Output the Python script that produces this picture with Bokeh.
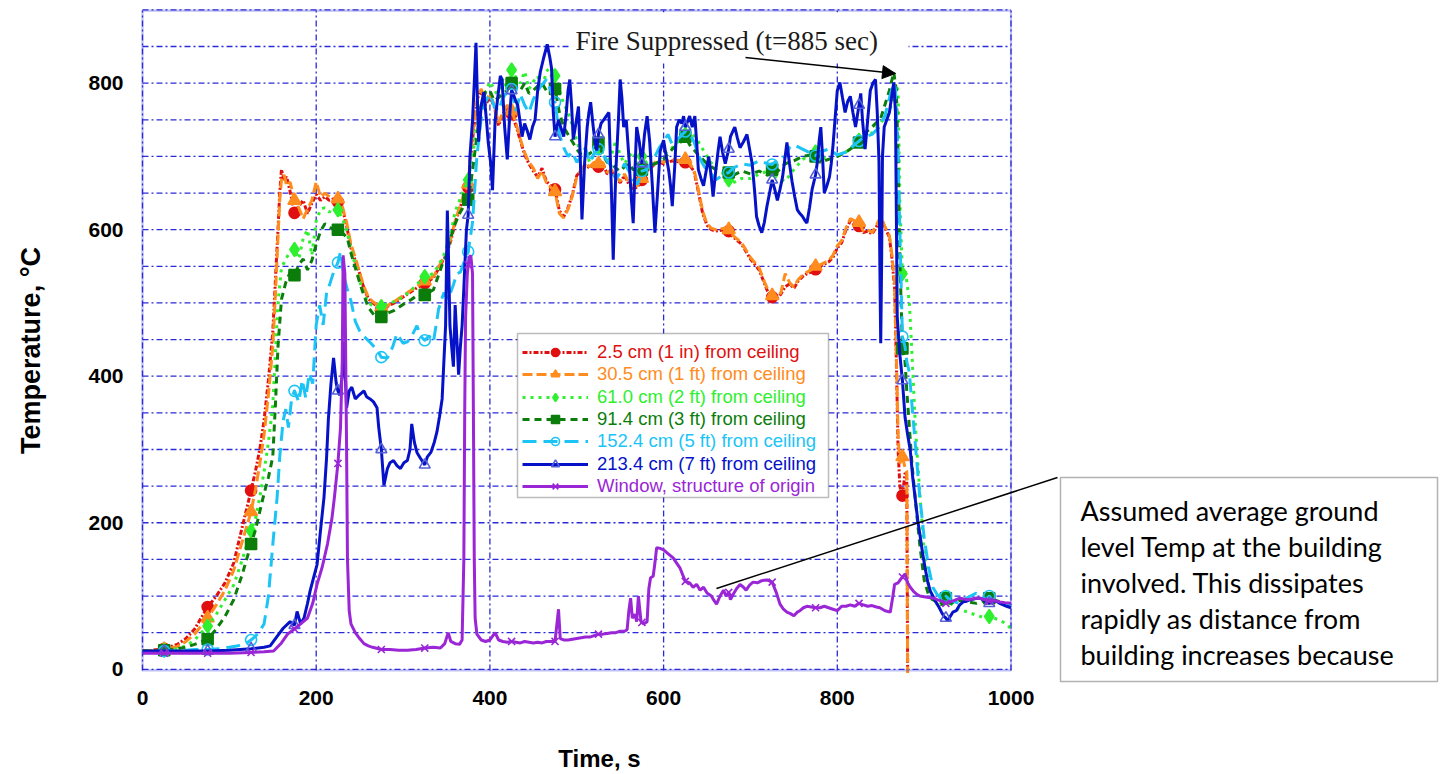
import numpy as np
from bokeh.plotting import figure
from bokeh.models import (Range1d, FixedTicker, Legend, LegendItem, Label, Arrow,
                          NormalHead, BoxAnnotation)
from bokeh.embed import file_html
from bokeh.resources import INLINE

# ---------------- data ----------------
series_names = [
    "2.5 cm (1 in) from ceiling",
    "30.5 cm (1 ft) from ceiling",
    "61.0 cm (2 ft) from ceiling",
    "91.4 cm (3 ft) from ceiling",
    "152.4 cm (5 ft) from ceiling",
    "213.4 cm (7 ft) from ceiling",
    "Window, structure of origin",
]

# time base shared by the 2.5 cm and 30.5 cm thermocouples (s)
t_top = [0, 10, 25, 40, 50, 60, 75, 85, 95, 105,
         115, 125, 130, 135, 140, 145, 150, 153, 156, 158,
         160, 163, 166, 170, 175, 180, 185, 190, 195, 200,
         205, 210, 215, 220, 225, 230, 235, 240, 245, 250,
         255, 260, 265, 270, 275, 280, 290, 300, 310, 318,
         325, 335, 345, 350, 355, 360, 365, 370, 375, 378,
         382, 386, 390, 395, 400, 405, 410, 415, 420, 425,
         430, 435, 440, 445, 450, 455, 460, 465, 470, 475,
         480, 485, 490, 495, 500, 505, 510, 515, 520, 525,
         530, 535, 540, 545, 550, 555, 560, 565, 570, 575,
         580, 585, 590, 595, 600, 610, 620, 625, 630, 635,
         640, 645, 650, 655, 660, 670, 675, 680, 690, 700,
         710, 715, 720, 725, 730, 735, 740, 745, 750, 755,
         760, 765, 770, 775, 780, 790, 795, 800, 805, 810,
         815, 820, 825, 830, 835, 840, 845, 850, 855, 860,
         863, 866, 868, 870, 872, 875, 878, 880, 881]

v_2_5 = [25, 26, 28, 34, 42, 55, 85, 100, 118, 145,
         195, 244, 270, 300, 340, 395, 460, 530, 600, 650,
         682, 668, 672, 652, 623, 632, 640, 622, 636, 648,
         640, 645, 640, 642, 638, 630, 605, 575, 558, 540,
         520, 506, 500, 496, 492, 494, 500, 508, 516, 522,
         527, 534, 556, 566, 585, 610, 628, 645, 658, 700,
         745, 780, 790, 770, 782, 768, 742, 758, 768, 758,
         742, 722, 702, 690, 680, 672, 684, 666, 660, 655,
         626, 618, 630, 648, 674, 680, 688, 684, 690, 686,
         690, 676, 680, 670, 664, 674, 662, 656, 658, 668,
         680, 684, 690, 692, 690, 694, 692, 692, 688, 680,
         652, 622, 606, 600, 598, 600, 598, 590, 580, 560,
         545, 530, 515, 508, 505, 512, 522, 526, 520, 530,
         536, 540, 542, 546, 550, 556, 562, 575, 582, 600,
         612, 606, 605, 596, 598, 594, 604, 616, 602, 590,
         560, 520, 420, 300, 250, 237, 268, 265, 0]

v_30_5 = [25, 25, 27, 31, 38, 48, 70, 88, 108, 135,
          175, 215, 245, 280, 320, 375, 440, 510, 590, 640,
          668, 675, 660, 665, 640, 630, 615, 628, 640, 665,
          645, 650, 645, 640, 642, 632, 610, 580, 562, 542,
          522, 508, 502, 498, 494, 495, 502, 510, 518, 524,
          530, 536, 558, 568, 588, 612, 630, 648, 662, 705,
          748, 782, 792, 775, 786, 770, 746, 760, 770, 762,
          746, 724, 705, 692, 684, 670, 680, 664, 658, 652,
          622, 616, 628, 646, 672, 682, 690, 686, 692, 690,
          692, 678, 682, 672, 666, 676, 664, 660, 660, 670,
          682, 686, 692, 694, 692, 696, 694, 696, 690, 682,
          655, 625, 608, 602, 600, 602, 600, 592, 582, 562,
          548, 532, 518, 510, 507, 514, 540, 528, 522, 532,
          538, 542, 545, 550, 552, 558, 565, 578, 585, 602,
          615, 612, 610, 598, 600, 596, 606, 618, 604, 592,
          565, 527, 430, 320, 281, 290, 275, 270, -5]

# time base shared by the 61.0 cm and 91.4 cm thermocouples (s)
t_mid = [0, 10, 25, 40, 50, 60, 75, 85, 95, 105,
         115, 125, 130, 135, 140, 145, 150, 153, 156, 160,
         165, 170, 175, 180, 185, 190, 195, 200, 205, 210,
         215, 220, 225, 230, 236, 240, 245, 250, 255, 260,
         265, 270, 275, 280, 290, 300, 310, 318, 325, 335,
         345, 350, 355, 360, 365, 370, 375, 380, 385, 390,
         395, 400, 405, 410, 415, 420, 425, 430, 435, 440,
         445, 450, 455, 460, 465, 470, 475, 480, 485, 490,
         495, 500, 505, 510, 515, 520, 525, 530, 535, 540,
         545, 550, 555, 560, 565, 570, 575, 580, 585, 590,
         600, 610, 620, 625, 630, 640, 650, 660, 670, 675,
         680, 690, 700, 710, 720, 725, 730, 740, 750, 760,
         770, 775, 780, 790, 800, 810, 820, 825, 830, 840,
         850, 860, 865, 868, 870, 872, 875, 878, 880, 883,
         886, 890, 895, 900, 905, 910, 920, 925, 930, 940,
         950, 960, 970, 975, 985, 995, 1000]

v_61_0 = [25, 25, 26, 28, 32, 40, 59, 75, 95, 115,
          150, 189, 205, 235, 270, 310, 360, 430, 500, 548,
          560, 570, 573, 560, 588, 600, 565, 612, 628, 630,
          624, 630, 627, 616, 596, 572, 552, 530, 512, 500,
          496, 494, 495, 498, 502, 508, 518, 528, 536, 540,
          560, 575, 595, 625, 640, 655, 668, 700, 742, 772,
          788, 802, 792, 780, 806, 792, 818, 808, 800, 816,
          792, 802, 810, 792, 816, 822, 810, 790, 772, 760,
          742, 722, 702, 706, 692, 702, 712, 706, 692, 702,
          722, 702, 690, 700, 706, 690, 700, 692, 682, 690,
          702, 712, 724, 730, 736, 720, 700, 682, 676, 668,
          664, 670, 670, 676, 680, 682, 672, 666, 682, 696,
          702, 706, 700, 696, 700, 706, 716, 722, 726, 732,
          746, 762, 780, 795, 790, 640, 540, 545, 530, 500,
          430, 330, 240, 160, 115, 92, 85, 98, 90, 82,
          78, 74, 70, 72, 68, 62, 55]

v_91_4 = [25, 25, 26, 28, 30, 34, 41, 55, 72, 95,
          130, 171, 190, 215, 240, 262, 290, 360, 440, 505,
          528, 542, 538, 552, 560, 545, 558, 580, 598, 608,
          604, 600, 600, 596, 588, 568, 548, 528, 510, 494,
          486, 480, 481, 485, 490, 498, 505, 512, 511, 518,
          552, 565, 590, 608, 622, 632, 641, 680, 728, 768,
          788, 790, 776, 780, 786, 790, 800, 795, 790, 800,
          786, 790, 796, 800, 790, 786, 792, 760, 740, 730,
          720, 710, 702, 700, 704, 708, 719, 702, 692, 690,
          684, 680, 686, 690, 682, 680, 682, 686, 688, 690,
          696, 710, 720, 727, 716, 702, 690, 682, 680, 678,
          674, 680, 676, 680, 674, 682, 678, 690, 694, 700,
          702, 700, 692, 696, 700, 706, 714, 719, 730, 740,
          752, 790, 815, 790, 700, 560, 438, 420, 380, 330,
          280, 230, 170, 122, 102, 95, 88, 97, 90, 94,
          92, 90, 94, 97, 93, 88, 85]

# 152.4 cm thermocouple
t_152 = [0, 10, 25, 40, 50, 60, 75, 90, 100, 110,
         120, 125, 130, 135, 140, 145, 150, 155, 158, 162,
         165, 168, 172, 175, 180, 184, 188, 192, 196, 200,
         204, 208, 212, 216, 220, 225, 228, 232, 236, 240,
         245, 250, 257, 263, 270, 275, 282, 288, 293, 300,
         305, 310, 316, 320, 325, 330, 335, 341, 347, 352,
         358, 362, 366, 370, 375, 380, 385, 390, 395, 400,
         405, 410, 415, 420, 425, 430, 435, 440, 445, 450,
         455, 460, 465, 470, 475, 480, 485, 490, 495, 500,
         505, 510, 515, 520, 525, 530, 535, 540, 545, 550,
         555, 560, 565, 570, 575, 580, 585, 590, 595, 600,
         605, 610, 615, 620, 625, 630, 635, 640, 645, 650,
         655, 660, 665, 670, 675, 680, 690, 700, 710, 720,
         725, 730, 740, 745, 750, 760, 770, 775, 780, 790,
         800, 810, 820, 825, 830, 840, 850, 855, 860, 865,
         867, 870, 872, 875, 878, 880, 883, 886, 890, 895,
         900, 905, 910, 915, 920, 925, 930, 940, 950, 960,
         970, 975, 980, 990, 1000]

v_152 = [24, 24, 25, 25, 26, 27, 27, 28, 30, 32,
         36, 40, 45, 52, 62, 100, 170, 235, 290, 340,
         355, 330, 372, 380, 365, 395, 370, 404, 390, 470,
         497, 470, 514, 527, 542, 555, 570, 536, 518, 503,
         475, 462, 452, 445, 436, 426, 425, 440, 458, 445,
         447, 455, 469, 455, 449, 455, 447, 492, 514, 505,
         525, 540, 542, 555, 570, 610, 700, 752, 775, 785,
         768, 762, 780, 788, 792, 762, 785, 770, 760, 778,
         790, 798, 805, 790, 774, 730, 712, 700, 706, 692,
         700, 712, 692, 704, 710, 702, 694, 686, 668, 678,
         690, 680, 668, 662, 680, 682, 690, 700, 712, 720,
         730, 716, 722, 728, 734, 730, 720, 702, 690, 680,
         676, 668, 672, 676, 678, 684, 690, 688, 694, 690,
         689, 694, 700, 712, 716, 710, 704, 701, 706, 710,
         702, 706, 716, 721, 726, 730, 742, 756, 780, 800,
         792, 700, 600, 454, 440, 420, 405, 360, 305, 235,
         180, 140, 112, 102, 96, 100, 94, 90, 98, 104,
         95, 100, 92, 90, 88]

# 213.4 cm thermocouple
t_213 = [0, 25, 50, 75, 100, 125, 140, 147, 155, 162,
         170, 175, 178, 182, 186, 190, 193, 197, 201, 205,
         209, 212, 214, 217, 220, 223, 225, 227, 230, 232,
         235, 238, 241, 245, 250, 255, 258, 262, 266, 270,
         272, 275, 278, 282, 285, 289, 293, 297, 301, 305,
         308, 310, 313, 316, 320, 325, 328, 332, 336, 339,
         342, 345, 347, 349, 351, 352, 354, 356, 358, 360,
         362, 364, 366, 368, 370, 371, 373, 375, 377, 380,
         382, 384, 386, 387, 390, 393, 396, 398, 401, 403,
         406, 409, 412, 414, 417, 420, 423, 425, 427, 430,
         432, 435, 437, 440, 443, 446, 449, 452, 455, 458,
         462, 466, 469, 471, 473, 475, 477, 479, 482, 485,
         488, 490, 492, 494, 496, 499, 502, 504, 506, 509,
         512, 514, 516, 519, 521, 523, 525, 528, 531, 534,
         537, 540, 542, 545, 548, 550, 552, 554, 557, 560,
         563, 565, 567, 569, 572, 575, 578, 581, 584, 587,
         590, 593, 596, 600, 603, 606, 608, 610, 613, 615,
         618, 621, 623, 625, 630, 633, 636, 638, 640, 643,
         646, 649, 652, 655, 657, 660, 663, 665, 668, 671,
         675, 677, 680, 682, 685, 688, 692, 696, 699, 702,
         705, 707, 710, 713, 716, 719, 722, 725, 728, 731,
         734, 737, 740, 742, 745, 748, 751, 754, 757, 760,
         763, 765, 768, 771, 775, 777, 779, 781, 783, 785,
         788, 791, 793, 795, 798, 800, 803, 806, 809, 812,
         815, 818, 821, 825, 827, 829, 832, 835, 838, 841,
         844, 846, 848, 849, 850, 851, 852, 854, 857, 860,
         863, 865, 867, 869, 872, 875, 878, 881, 884, 887,
         890, 893, 895, 898, 901, 904, 907, 910, 913, 917,
         920, 923, 925, 927, 930, 933, 937, 941, 945, 949,
         953, 957, 960, 964, 968, 971, 975, 979, 983, 987,
         991, 995, 1000]

v_213 = [25, 25, 25, 25, 26, 28, 30, 32, 45, 56,
         65, 60, 79, 62, 70, 90, 107, 125, 143, 190,
         235, 290, 341, 390, 425, 391, 380, 374, 400, 447,
         357, 380, 385, 369, 375, 380, 372, 369, 365, 357,
         330, 300, 251, 274, 282, 285, 278, 274, 282, 285,
         300, 335, 310, 296, 288, 279, 290, 296, 310, 324,
         345, 369, 420, 469, 626, 580, 469, 440, 413, 497,
         450, 402, 440, 469, 520, 547, 600, 620, 700, 749,
         800, 855, 760, 720, 770, 788, 750, 720, 690, 654,
         749, 780, 810, 805, 740, 696, 760, 790, 785, 775,
         770, 745, 727, 745, 735, 723, 740, 750, 790, 815,
         835, 853, 835, 820, 760, 727, 740, 750, 738, 727,
         760, 790, 805, 770, 723, 745, 768, 700, 614, 690,
         740, 760, 774, 740, 720, 708, 730, 745, 750, 755,
         760, 650, 559, 680, 750, 805, 780, 740, 750, 700,
         640, 609, 680, 740, 720, 690, 730, 755, 720, 661,
         596, 650, 707, 722, 700, 680, 660, 632, 690, 740,
         750, 745, 755, 740, 755, 740, 755, 720, 682, 670,
         660, 680, 700, 670, 645, 680, 710, 727, 705, 690,
         710, 727, 735, 740, 725, 712, 720, 730, 710, 690,
         650, 618, 605, 596, 610, 632, 650, 668, 655, 640,
         655, 672, 700, 719, 690, 665, 645, 627, 622, 618,
         612, 609, 630, 655, 675, 692, 720, 740, 700, 650,
         660, 672, 690, 714, 760, 790, 801, 780, 760, 775,
         782, 760, 740, 770, 786, 750, 710, 750, 790, 800,
         805, 760, 692, 550, 445, 550, 700, 740, 750, 760,
         785, 801, 760, 481, 430, 394, 344, 320, 299, 260,
         230, 200, 185, 160, 139, 120, 107, 100, 93, 85,
         78, 72, 70, 66, 72, 78, 80, 88, 92, 93,
         95, 96, 97, 97, 95, 92, 90, 93, 93, 90,
         88, 86, 84]

# window of the structure of origin
t_win = [0, 25, 50, 75, 100, 125, 140, 151, 160, 167,
         175, 180, 190, 196, 201, 207, 213, 218, 221, 225,
         228, 230, 231, 233, 235, 236, 238, 240, 245, 250,
         255, 260, 265, 275, 285, 295, 305, 315, 325, 335,
         343, 348, 352, 355, 360, 365, 368, 370, 371, 372,
         374, 375, 376, 378, 380, 381, 382, 383, 385, 390,
         395, 400, 406, 410, 415, 420, 425, 430, 435, 440,
         445, 450, 455, 460, 465, 470, 475, 477, 479, 481,
         485, 490, 495, 500, 505, 510, 515, 520, 525, 530,
         535, 540, 545, 550, 555, 558, 560, 562, 564, 567,
         569, 571, 574, 575, 577, 581, 583, 585, 588, 590,
         592, 596, 600, 605, 611, 615, 619, 625, 630, 634,
         638, 642, 646, 650, 655, 658, 661, 665, 669, 672,
         675, 677, 680, 684, 688, 692, 695, 699, 703, 708,
         713, 719, 725, 730, 734, 738, 742, 746, 750, 754,
         757, 761, 765, 770, 775, 780, 785, 790, 795, 800,
         805, 810, 815, 820, 825, 830, 835, 840, 845, 849,
         855, 861, 864, 866, 870, 875, 878, 881, 884, 888,
         892, 895, 900, 905, 911, 915, 920, 925, 930, 935,
         941, 946, 950, 955, 960, 964, 970, 975, 980, 987,
         993, 1000]

v_win = [22, 22, 22, 22, 22, 23, 24, 25, 36, 48,
         55, 60, 70, 90, 116, 140, 171, 205, 235, 281,
         330, 420, 565, 540, 300, 150, 80, 62, 50, 42,
         35, 32, 30, 27, 27, 26, 26, 27, 29, 30,
         29, 35, 50, 38, 35, 34, 40, 150, 350, 480,
         540, 552, 562, 565, 540, 350, 150, 70, 48, 40,
         38, 40, 50, 40, 38, 37, 38, 37, 36, 38,
         37, 36, 37, 36, 38, 38, 38, 60, 82, 42,
         40, 40, 41, 42, 43, 44, 44, 46, 48, 48,
         49, 50, 50, 52, 52, 54, 80, 97, 70, 75,
         65, 100, 65, 64, 62, 65, 110, 125, 127, 145,
         166, 165, 163, 158, 152, 145, 138, 120, 118, 112,
         116, 108, 112, 104, 100, 94, 89, 100, 108, 100,
         105, 95, 102, 110, 116, 112, 108, 115, 119, 118,
         121, 122, 119, 104, 89, 82, 78, 76, 73, 78,
         80, 84, 86, 85, 84, 84, 86, 84, 82, 80,
         86, 86, 88, 86, 90, 88, 86, 87, 85, 84,
         80, 78, 100, 116, 118, 126, 130, 118, 112, 106,
         102, 100, 99, 98, 97, 95, 93, 90, 92, 94,
         97, 96, 95, 96, 97, 97, 95, 93, 94, 92,
         91, 90]

marker_times = list(range(25, 1000, 50))   # a symbol is drawn every 50 s

x_ticks = [0, 200, 400, 600, 800, 1000]
y_ticks = [0, 200, 400, 600, 800]
y_grid_steps = list(range(0, 901, 50))

x_title = "Time, s"
y_title = "Temperature, °C"
fire_note = "Fire Suppressed (t=885 sec)"
note_lines = ["Assumed average ground",
              "level Temp at the building",
              "involved. This dissipates",
              "rapidly as distance from",
              "building increases because"]

# ---------------- geometry ----------------
W, H = 1445, 772
PX0, SX = 142.0, 0.8685     # pixel of t = 0 and pixels per second
PY0, SY = 668.8, 0.7327     # pixel of T = 0 and pixels per degree
X0, X1 = 0, 1000            # plotting box (s)
Y0, Y1 = -1.5, 899          # plotting box (deg C)

def sx(px):
    return (px - PX0) / SX

def sy(py):
    return (PY0 - py) / SY

GRID_BLUE = "#2a2ad8"
series = [
    dict(t=t_top, v=v_2_5, color="#e01010", dash="5 2 2 2", marker="circle", size=11, fill=True),
    dict(t=t_top, v=v_30_5, color="#ff8c1e", dash="10 4", marker="triangle", size=13, fill=True),
    dict(t=t_mid, v=v_61_0, color="#2ef02e", dash="3 5", marker="diamond", size=14, fill=True),
    dict(t=t_mid, v=v_91_4, color="#0b7d0b", dash="7 5", marker="square", size=11, fill=True),
    dict(t=t_152, v=v_152, color="#1cc4f6", dash="14 7", marker="circle_dot", size=11, fill=False),
    dict(t=t_213, v=v_213, color="#0612c8", dash="solid", marker="triangle", size=11, fill=False),
    dict(t=t_win, v=v_win, color="#9a26d6", dash="solid", marker="x", size=10, fill=False),
]

# The frame covers the whole canvas so that notes outside the plotting box can be drawn;
# the axes are pinned to the edges of the plotting box with fixed_location.
p = figure(width=W, height=H, output_backend="svg", toolbar_location=None,
           x_range=Range1d(sx(0), sx(W)), y_range=Range1d(sy(H), sy(0)),
           min_border=0, min_border_left=0, min_border_right=0,
           min_border_top=0, min_border_bottom=0)
p.background_fill_color = "white"
p.border_fill_color = "white"
p.outline_line_color = None
p.xgrid.visible = False
p.ygrid.visible = False

p.xaxis.ticker = FixedTicker(ticks=x_ticks, minor_ticks=[])
p.yaxis.ticker = FixedTicker(ticks=y_ticks, minor_ticks=[])
p.xaxis.fixed_location = Y0
p.yaxis.fixed_location = X0
for ax in (p.xaxis, p.yaxis):
    ax.axis_line_color = None
    ax.major_tick_line_color = None
    ax.minor_tick_line_color = None
    ax.major_tick_out = 0
    ax.major_tick_in = 0
    ax.major_label_text_font = "Liberation Sans"
    ax.major_label_text_font_style = "bold"
    ax.major_label_text_font_size = "21px"
    ax.major_label_text_color = "black"
p.xaxis.major_label_standoff = 21
p.yaxis.major_label_standoff = 19

# grid lines, limited to the plotting box
p.segment(x0=[X0] * len(y_grid_steps), x1=[X1] * len(y_grid_steps),
          y0=y_grid_steps, y1=y_grid_steps,
          line_color=GRID_BLUE, line_width=1.3, line_dash="6 3 2 3")
p.segment(x0=x_ticks, x1=x_ticks, y0=[Y0] * len(x_ticks), y1=[Y1] * len(x_ticks),
          line_color=GRID_BLUE, line_width=1.3, line_dash="6 3 2 3")

renderers = []
for s in series:
    t = np.asarray(s["t"], dtype=float)
    v = np.asarray(s["v"], dtype=float)
    lr = p.line(t, v, line_color=s["color"], line_width=3, line_dash=s["dash"])
    mk = np.isin(t, marker_times)
    kw = dict(marker=s["marker"], size=s["size"], line_color=s["color"], line_width=1.6)
    kw["fill_color"] = s["color"] if s["fill"] else None
    if s["marker"] == "triangle" and not s["fill"]:
        kw["line_color"] = "#5560d8"
    sr = p.scatter(t[mk], v[mk], **kw)
    renderers.append((lr, sr))

# white patch behind the "Fire Suppressed" note
p.add_layout(BoxAnnotation(left=sx(570), right=sx(908), bottom=sy(63), top=sy(12),
                           fill_color="white", fill_alpha=1.0, line_alpha=0))
# border of the plotting box
p.add_layout(BoxAnnotation(left=X0, right=X1, bottom=Y0, top=Y1, fill_alpha=0,
                           line_color=GRID_BLUE, line_width=2.2))

# axis titles
p.add_layout(Label(x=sx(599), y=sy(758), text=x_title, text_font="Liberation Sans",
                   text_font_style="bold", text_font_size="24px", text_color="black",
                   text_align="center", text_baseline="middle"))
p.add_layout(Label(x=sx(30), y=sy(350), text=y_title, text_font="Liberation Sans",
                   text_font_style="bold", text_font_size="27px", text_color="black",
                   text_align="center", text_baseline="middle", angle=np.pi / 2))

# ---------------- legend (one per row so every label keeps its own colour) ----------------
p.add_layout(BoxAnnotation(left=sx(517), right=sx(828), bottom=sy(497), top=sy(333),
                           fill_color="white", fill_alpha=1.0,
                           line_color="#222222", line_width=1.5))
row_centers = [353, 375.3, 397.7, 420, 442.3, 464.7, 487]
for (lr, sr), s, name, yc in zip(renderers, series, series_names, row_centers):
    lg = Legend(items=[LegendItem(label=name, renderers=[lr, sr])],
                location=(522, H - yc - 10), orientation="vertical",
                border_line_color=None, background_fill_alpha=0,
                padding=0, margin=0, spacing=0,
                glyph_width=66, glyph_height=20, label_height=20,
                label_standoff=9, label_text_font="Liberation Sans",
                label_text_font_size="18.5px", label_text_color=s["color"])
    p.add_layout(lg)

# ---------------- annotations ----------------
p.add_layout(Label(x=sx(575), y=sy(40), text=fire_note,
                   text_font="Liberation Serif", text_font_size="27px",
                   text_color="#1a1a1a", text_align="left", text_baseline="middle"))
p.add_layout(Arrow(end=NormalHead(size=13, fill_color="black", line_color="black"),
                   x_start=sx(745), y_start=sy(57), x_end=sx(895), y_end=sy(73),
                   line_color="black", line_width=1.5))

# side note box and its pointer
p.add_layout(BoxAnnotation(left=sx(1060), right=sx(1437), bottom=sy(681), top=sy(477),
                           fill_color="white", fill_alpha=1.0,
                           line_color="black", line_width=1.5))
for i, txt in enumerate(note_lines):
    p.add_layout(Label(x=sx(1080), y=sy(510 + 36 * i), text=txt, text_font="Lato",
                       text_font_size="27px", text_color="black",
                       text_align="left", text_baseline="middle"))
p.add_layout(Arrow(end=None, x_start=sx(716), y_start=sy(588), x_end=sx(1057), y_end=sy(477),
                   line_color="black", line_width=1.5))

open("out.html", "w").write(file_html(p, INLINE))
